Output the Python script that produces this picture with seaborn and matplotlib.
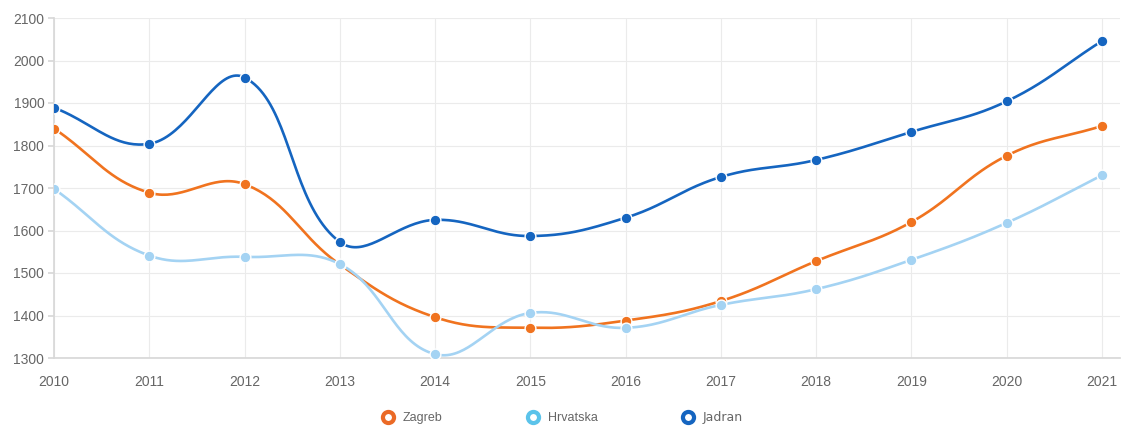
import numpy as np
import matplotlib
matplotlib.use("Agg")
import matplotlib.pyplot as plt
from matplotlib.lines import Line2D
import seaborn as sns

years = [2010, 2011, 2012, 2013, 2014, 2015, 2016, 2017, 2018, 2019, 2020, 2021]
zagreb = [1840, 1689, 1709, 1520, 1396, 1371, 1388, 1434, 1528, 1620, 1776, 1846]
hrvatska = [1698, 1541, 1538, 1521, 1309, 1406, 1371, 1425, 1462, 1531, 1618, 1730]
jadran = [1889, 1804, 1960, 1573, 1625, 1587, 1630, 1726, 1766, 1832, 1904, 2046]

series = [
    ("Zagreb", zagreb, "#f0731f", "#eb6a26"),
    ("Hrvatska", hrvatska, "#a4d3f3", "#5bc3ea"),
    ("Jadran", jadran, "#1565c0", "#1565c0"),
]

# pixel scale of the reference, used so the curve tension looks the same
PX_X = 95.3
PX_Y = 0.425


def smooth_curve(x, y, tension=0.4, steps=40):
    # cardinal bezier like the web chart libraries draw
    px = np.asarray(x, float) * PX_X
    py = np.asarray(y, float) * PX_Y
    n = len(px)
    cp_prev = np.zeros((n, 2))
    cp_next = np.zeros((n, 2))
    for i in range(n):
        p0 = np.array([px[max(i - 1, 0)], py[max(i - 1, 0)]])
        p1 = np.array([px[i], py[i]])
        p2 = np.array([px[min(i + 1, n - 1)], py[min(i + 1, n - 1)]])
        d01 = np.hypot(*(p1 - p0))
        d12 = np.hypot(*(p2 - p1))
        tot = d01 + d12
        s01 = d01 / tot if tot else 0
        s12 = d12 / tot if tot else 0
        cp_prev[i] = p1 - tension * s01 * (p2 - p0)
        cp_next[i] = p1 + tension * s12 * (p2 - p0)
    t = np.linspace(0, 1, steps)[:, None]
    pts = []
    for i in range(n - 1):
        a = np.array([px[i], py[i]])
        b = cp_next[i]
        c = cp_prev[i + 1]
        d = np.array([px[i + 1], py[i + 1]])
        seg = (1 - t) ** 3 * a + 3 * (1 - t) ** 2 * t * b + 3 * (1 - t) * t ** 2 * c + t ** 3 * d
        pts.append(seg if i == 0 else seg[1:])
    pts = np.vstack(pts)
    return pts[:, 0] / PX_X, pts[:, 1] / PX_Y


sns.set_theme(style="whitegrid")
plt.rcParams['font.family'] = ['Liberation Sans', 'DejaVu Sans']

fig = plt.figure(figsize=(11.23, 4.29), dpi=100)
ax = fig.add_axes([54 / 1123, 1 - 358 / 429, (1120 - 54) / 1123, 340 / 429])
ax.set_facecolor("white")

for name, vals, color, _ in series:
    sx, sy = smooth_curve(years, vals)
    sns.lineplot(x=sx, y=sy, sort=False, estimator=None, color=color, linewidth=1.9, ax=ax, zorder=3)
    sns.scatterplot(x=years, y=vals, color=color, s=60, edgecolor="white", linewidth=1.0, ax=ax, zorder=4)

ax.set_xlim(2010, 2021 + 18 / PX_X)
ax.set_ylim(1300, 2100)
ax.set_xticks(years)
ax.set_yticks(range(1300, 2101, 100))
ax.grid(True, color="#ebebeb", linewidth=0.8)
for side in ["top", "right"]:
    ax.spines[side].set_visible(False)
ax.spines["left"].set_color("#d8d8d8")
ax.spines["bottom"].set_color("#d8d8d8")
ax.tick_params(axis="both", labelsize=10, labelcolor="#666666", color="#d8d8d8")
ax.tick_params(axis="y", left=True, length=4, pad=3)
ax.tick_params(axis="x", bottom=False, pad=6)

handles = [Line2D([], [], linestyle="none", marker="o", markersize=8, markerfacecolor="white",
                  markeredgecolor=lc, markeredgewidth=3) for _, _, _, lc in series]
leg = fig.legend(handles, [s[0] for s in series], loc="center", bbox_to_anchor=(0.50, 0.026), ncol=3,
                 frameon=False, fontsize=9, columnspacing=6.6, handletextpad=0.6, handlelength=1.2)
for txt in leg.get_texts():
    txt.set_color("#666666")
leg.get_texts()[2].set_family("DejaVu Sans")

fig.savefig("out.png", dpi=100)
